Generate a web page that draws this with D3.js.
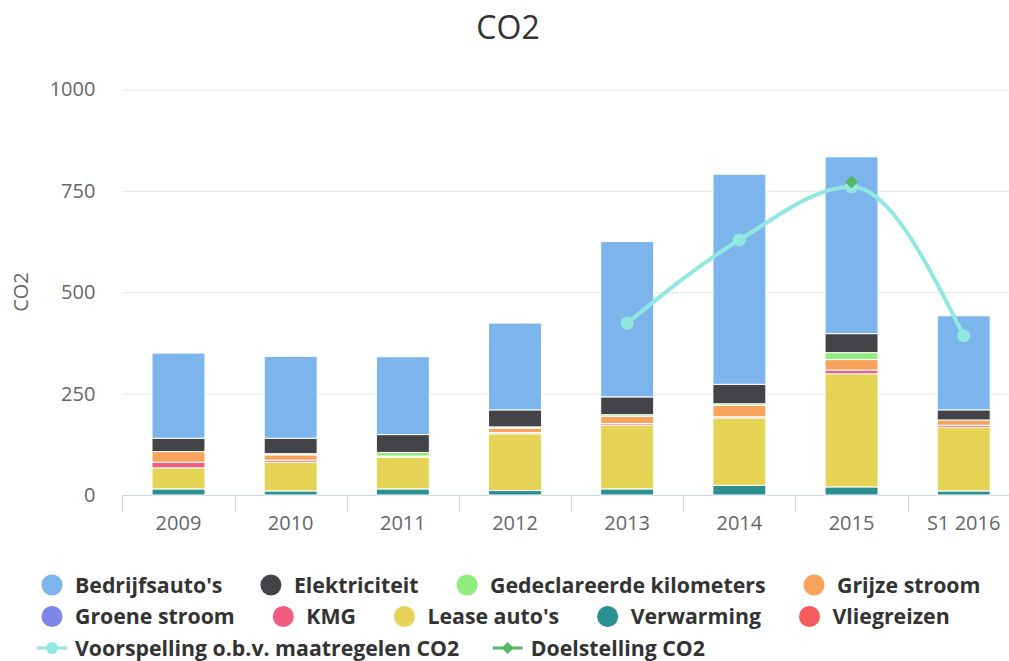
<!DOCTYPE html>
<html><head><meta charset="utf-8">
<script src="https://cdn.jsdelivr.net/npm/d3@7"></script>
<style>
body{margin:0;background:#fff;}
svg{display:block;font-family:"Open Sans",sans-serif;}
</style>
</head><body>
<svg id="c" width="1009" height="661"></svg>
<script>
// ---- data ----
const categories = ["2009","2010","2011","2012","2013","2014","2015","S1 2016"];
const bedrijfsautos = [210,202,192,214,383,518,436,232];
const elektriciteit = [33,38,44,42,44,48,47,25];
const gedeclareerde = [0,3,9,3,4,4,17,0];
const grijzeStroom  = [26,13,3,11,18,28,26,13];
const groeneStroom  = [0,0,0,0,0,0,0,0];
const kmg           = [14,5,0,3,4,3,9,5];
const leaseAutos    = [52,71,78,140,157,166,279,157];
const verwarming    = [15,10,15,11,15,24,20,10];
const vliegreizen   = [0,0,0,0,0,0,0,0];
const voorspelling  = [null,null,null,null,424,629,760,393];
const doelstelling  = [null,null,null,null,null,null,772,null];
const yTicks = [0,250,500,750,1000];
const seriesNames = ["Bedrijfsauto's","Elektriciteit","Gedeclareerde kilometers","Grijze stroom","Groene stroom","KMG","Lease auto's","Verwarming","Vliegreizen"];
const lineNames = ["Voorspelling o.b.v. maatregelen CO2","Doelstelling CO2"];
const title = "CO2";
const yTitle = "CO2";

// ---- styling ----
const colors = ["#7cb5ec","#434348","#90ed7d","#f7a35c","#8085e9","#f15c80","#e4d354","#2b908f","#f45b5b"];
const lineColor = "#91e8e1", goalColor = "#55b868";
const seriesValues = [bedrijfsautos,elektriciteit,gedeclareerde,grijzeStroom,groeneStroom,kmg,leaseAutos,verwarming,vliegreizen];

const table = categories.map((c,i)=>{
  const row = {cat:c};
  seriesNames.forEach((n,k)=>row[n]=seriesValues[k][i]);
  return row;
});
const stackKeys = seriesNames.slice().reverse(); // first series on top
const stacked = d3.stack().keys(stackKeys)(table);

const svg = d3.select("#c");
const x = d3.scaleBand().domain(categories).range([122.4, 1019.8]).padding(0);
const y = d3.scaleLinear().domain([0,1000]).range([495, 89.5]);
const barW = x.bandwidth()*0.472;

// title
svg.append("text").attr("x",508).attr("y",39).attr("text-anchor","middle")
  .attr("font-size",32).attr("fill","#333").text(title);

// y axis + grid
const yAxis = svg.append("g").attr("transform","translate(122.4,0)")
  .call(d3.axisLeft(y).tickValues(yTicks).tickSize(-(1019.8-122.4)).tickPadding(27).tickFormat(d3.format("d")));
yAxis.select(".domain").remove();
yAxis.selectAll("line").attr("stroke","#e6e6e6");
yAxis.selectAll("text").attr("font-size",20).attr("fill","#666").attr("font-family","Open Sans");

svg.append("text").attr("transform","translate(28,292) rotate(-90)").attr("text-anchor","middle")
  .attr("font-size",20).attr("fill","#666").text(yTitle);

// x axis
const xAxis = svg.append("g").attr("transform","translate(0,495)")
  .call(d3.axisBottom(x).tickSize(0).tickPadding(21));
xAxis.select(".domain").remove();
xAxis.selectAll("text").attr("font-size",20).attr("fill","#666").attr("font-family","Open Sans");
svg.append("line").attr("x1",122.4).attr("x2",1019.8).attr("y1",495.5).attr("y2",495.5).attr("stroke","#ccd6eb");
const boundaries = categories.map(c=>x(c)).concat([x(categories[categories.length-1])+x.bandwidth()]);
svg.append("g").selectAll("line").data(boundaries).join("line")
  .attr("x1",d=>Math.round(d)+0.5).attr("x2",d=>Math.round(d)+0.5).attr("y1",495).attr("y2",512).attr("stroke","#ccd6eb");

// bars
const colorOf = n => colors[seriesNames.indexOf(n)];
svg.append("g").selectAll("g").data(stacked).join("g").attr("fill",s=>colorOf(s.key))
  .selectAll("rect").data(s=>s.filter(d=>d[1]-d[0]>0)).join("rect")
  .attr("x",d=>x(d.data.cat)+(x.bandwidth()-barW)/2)
  .attr("width",barW)
  .attr("y",d=>y(d[1]))
  .attr("height",d=>y(d[0])-y(d[1]))
  .attr("stroke","#fff").attr("stroke-width",1);

// spline line
const lineData = categories.map((c,i)=>({cat:c,v:voorspelling[i]})).filter(d=>d.v!=null);
const cx = c => x(c)+x.bandwidth()/2;
svg.append("path").datum(lineData)
  .attr("d",d3.line().x(d=>cx(d.cat)).y(d=>y(d.v)).curve(d3.curveMonotoneX))
  .attr("fill","none").attr("stroke",lineColor).attr("stroke-width",4);
svg.append("g").selectAll("circle").data(lineData).join("circle")
  .attr("cx",d=>cx(d.cat)).attr("cy",d=>y(d.v)).attr("r",6.5).attr("fill",lineColor);

// goal marker
const goalData = categories.map((c,i)=>({cat:c,v:doelstelling[i]})).filter(d=>d.v!=null);
const diamond = d3.symbol().type(d3.symbolDiamond2).size(110);
svg.append("g").selectAll("path").data(goalData).join("path")
  .attr("d",diamond).attr("transform",d=>`translate(${cx(d.cat)},${y(d.v)})`).attr("fill",goalColor);

// legend
const legend = svg.append("g");
const items = seriesNames.map((n,i)=>({name:n,type:"bar",color:colors[i]}))
  .concat([{name:lineNames[0],type:"line",color:lineColor},{name:lineNames[1],type:"goal",color:goalColor}]);
let lx = 37, row = 0;
items.forEach(it=>{
  const g = legend.append("g");
  if(it.type==="bar"){
    g.append("circle").attr("cx",15).attr("cy",0).attr("r",10.5).attr("fill",it.color);
  } else {
    g.append("line").attr("x1",0).attr("x2",30).attr("y1",0).attr("y2",0).attr("stroke",it.color).attr("stroke-width",3);
    if(it.type==="line") g.append("circle").attr("cx",15).attr("cy",0).attr("r",6).attr("fill",it.color);
    else g.append("path").attr("d",d3.symbol().type(d3.symbolDiamond2).size(90)).attr("transform","translate(15,0)").attr("fill",it.color);
  }
  const t = g.append("text").attr("x",38).attr("y",7.5).attr("font-size",21.3).attr("font-weight","bold")
    .attr("fill","#333").text(it.name);
  const w = 38 + t.node().getComputedTextLength();
  if(lx + w > 1002 && lx > 37){ row++; lx = 37; }
  g.attr("transform",`translate(${lx},${585 + row*31.5})`);
  lx += w + 33.5;
});
</script>
</body></html>
